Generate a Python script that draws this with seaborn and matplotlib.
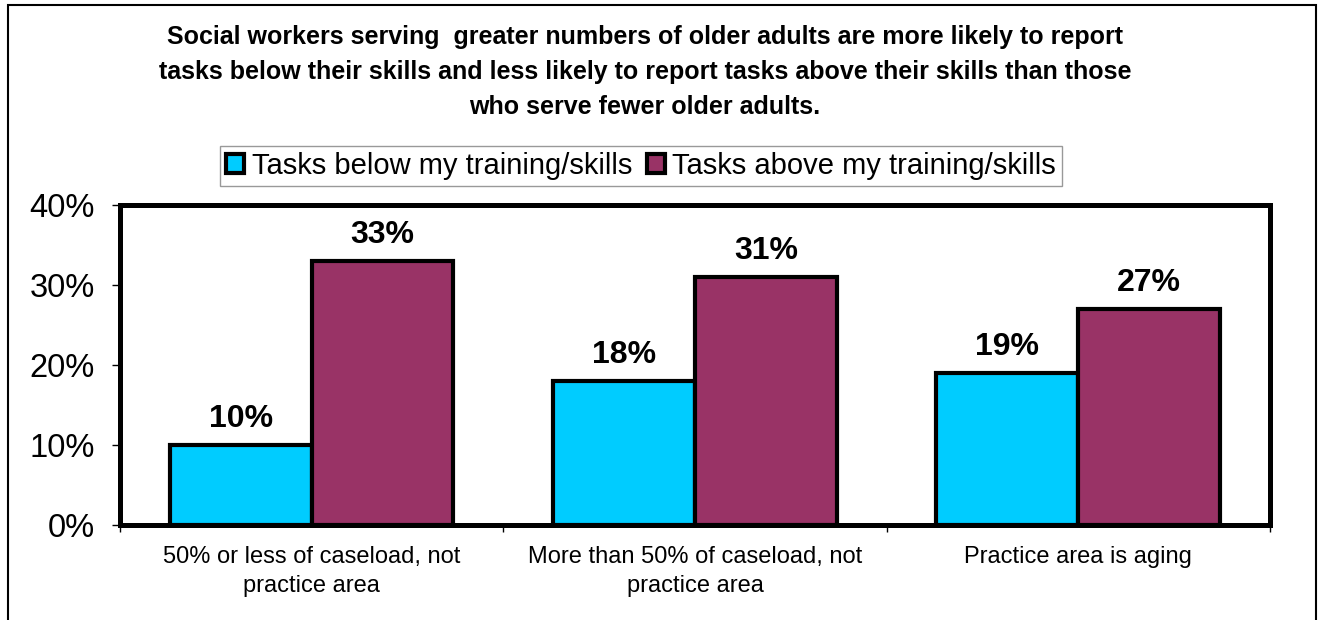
import numpy as np
import pandas as pd
import matplotlib
matplotlib.use("Agg")
import matplotlib.pyplot as plt
from matplotlib.patches import Rectangle
import seaborn as sns

# data
categories = ["50% or less of caseload, not\npractice area",
              "More than 50% of caseload, not\npractice area",
              "Practice area is aging"]
series = ["Tasks below my training/skills", "Tasks above my training/skills"]
below_skills = [10, 18, 19]
above_skills = [33, 31, 27]
yticks = [0, 10, 20, 30, 40]
colors = ["#00CCFF", "#993366"]

title = ("Social workers serving  greater numbers of older adults are more likely to report\n"
         "tasks below their skills and less likely to report tasks above their skills than those\n"
         "who serve fewer older adults.")

df = pd.DataFrame({
    "category": categories * 2,
    "series": [series[0]] * 3 + [series[1]] * 3,
    "value": below_skills + above_skills,
})

sns.set_theme(style="white")
plt.rcParams["font.family"] = ["Liberation Sans", "DejaVu Sans"]
plt.rcParams.update({"text.color": "black", "axes.labelcolor": "black",
                     "xtick.color": "black", "ytick.color": "black"})

fig = plt.figure(figsize=(13.22, 6.2), dpi=100)
ax = fig.add_axes([120 / 1322, 1 - 525 / 620, 1150 / 1322, 320 / 620])

sns.barplot(data=df, x="category", y="value", hue="series", palette=colors,
            saturation=1, width=0.74, edgecolor="black", linewidth=3,
            ax=ax)

handles, labels = ax.get_legend_handles_labels()
ax.get_legend().remove()

for cont in ax.containers:
    ax.bar_label(cont, labels=[f"{v:.0f}%" for v in cont.datavalues],
                 padding=8, fontsize=23, fontweight="bold")

ax.set_ylim(0, 40)
ax.set_yticks(yticks)
ax.set_yticklabels([f"{t}%" for t in yticks], fontsize=23.5)
ax.set_xlim(-0.5, 2.5)
ax.set_xlabel("")
ax.set_ylabel("")
ax.tick_params(axis="x", which="major", length=0, pad=15, labelsize=17)
ax.set_xticks([-0.5, 0.5, 1.5, 2.5], minor=True)
ax.tick_params(axis="x", which="minor", length=5, width=1, color="black", direction="out", bottom=True)
ax.tick_params(axis="y", length=6, width=1, color="black", direction="out", left=True, pad=12)
for lab in ax.get_xticklabels():
    lab.set_linespacing(1.45)

for s in ax.spines.values():
    s.set_color("black")
    s.set_linewidth(3.6)

fig.legend(handles, labels, loc="center", bbox_to_anchor=(641 / 1322, 1 - 166 / 620),
           ncol=2, fontsize=21, frameon=True, fancybox=False, edgecolor="#808080",
           handlelength=0.62, handleheight=0.62, handletextpad=0.25, columnspacing=0.5,
           borderpad=0.2, borderaxespad=0)

fig.text(645 / 1322, 1 - 72 / 620, title, ha="center", va="center", fontsize=18,
         fontweight="bold", linespacing=1.6)

# outer chart border
fig.patches.append(Rectangle((8 / 1322, -0.1), 1308 / 1322, 1.1 - 5 / 620,
                             transform=fig.transFigure, fill=False,
                             edgecolor="black", linewidth=1.5))

fig.savefig("out.png", dpi=100)
